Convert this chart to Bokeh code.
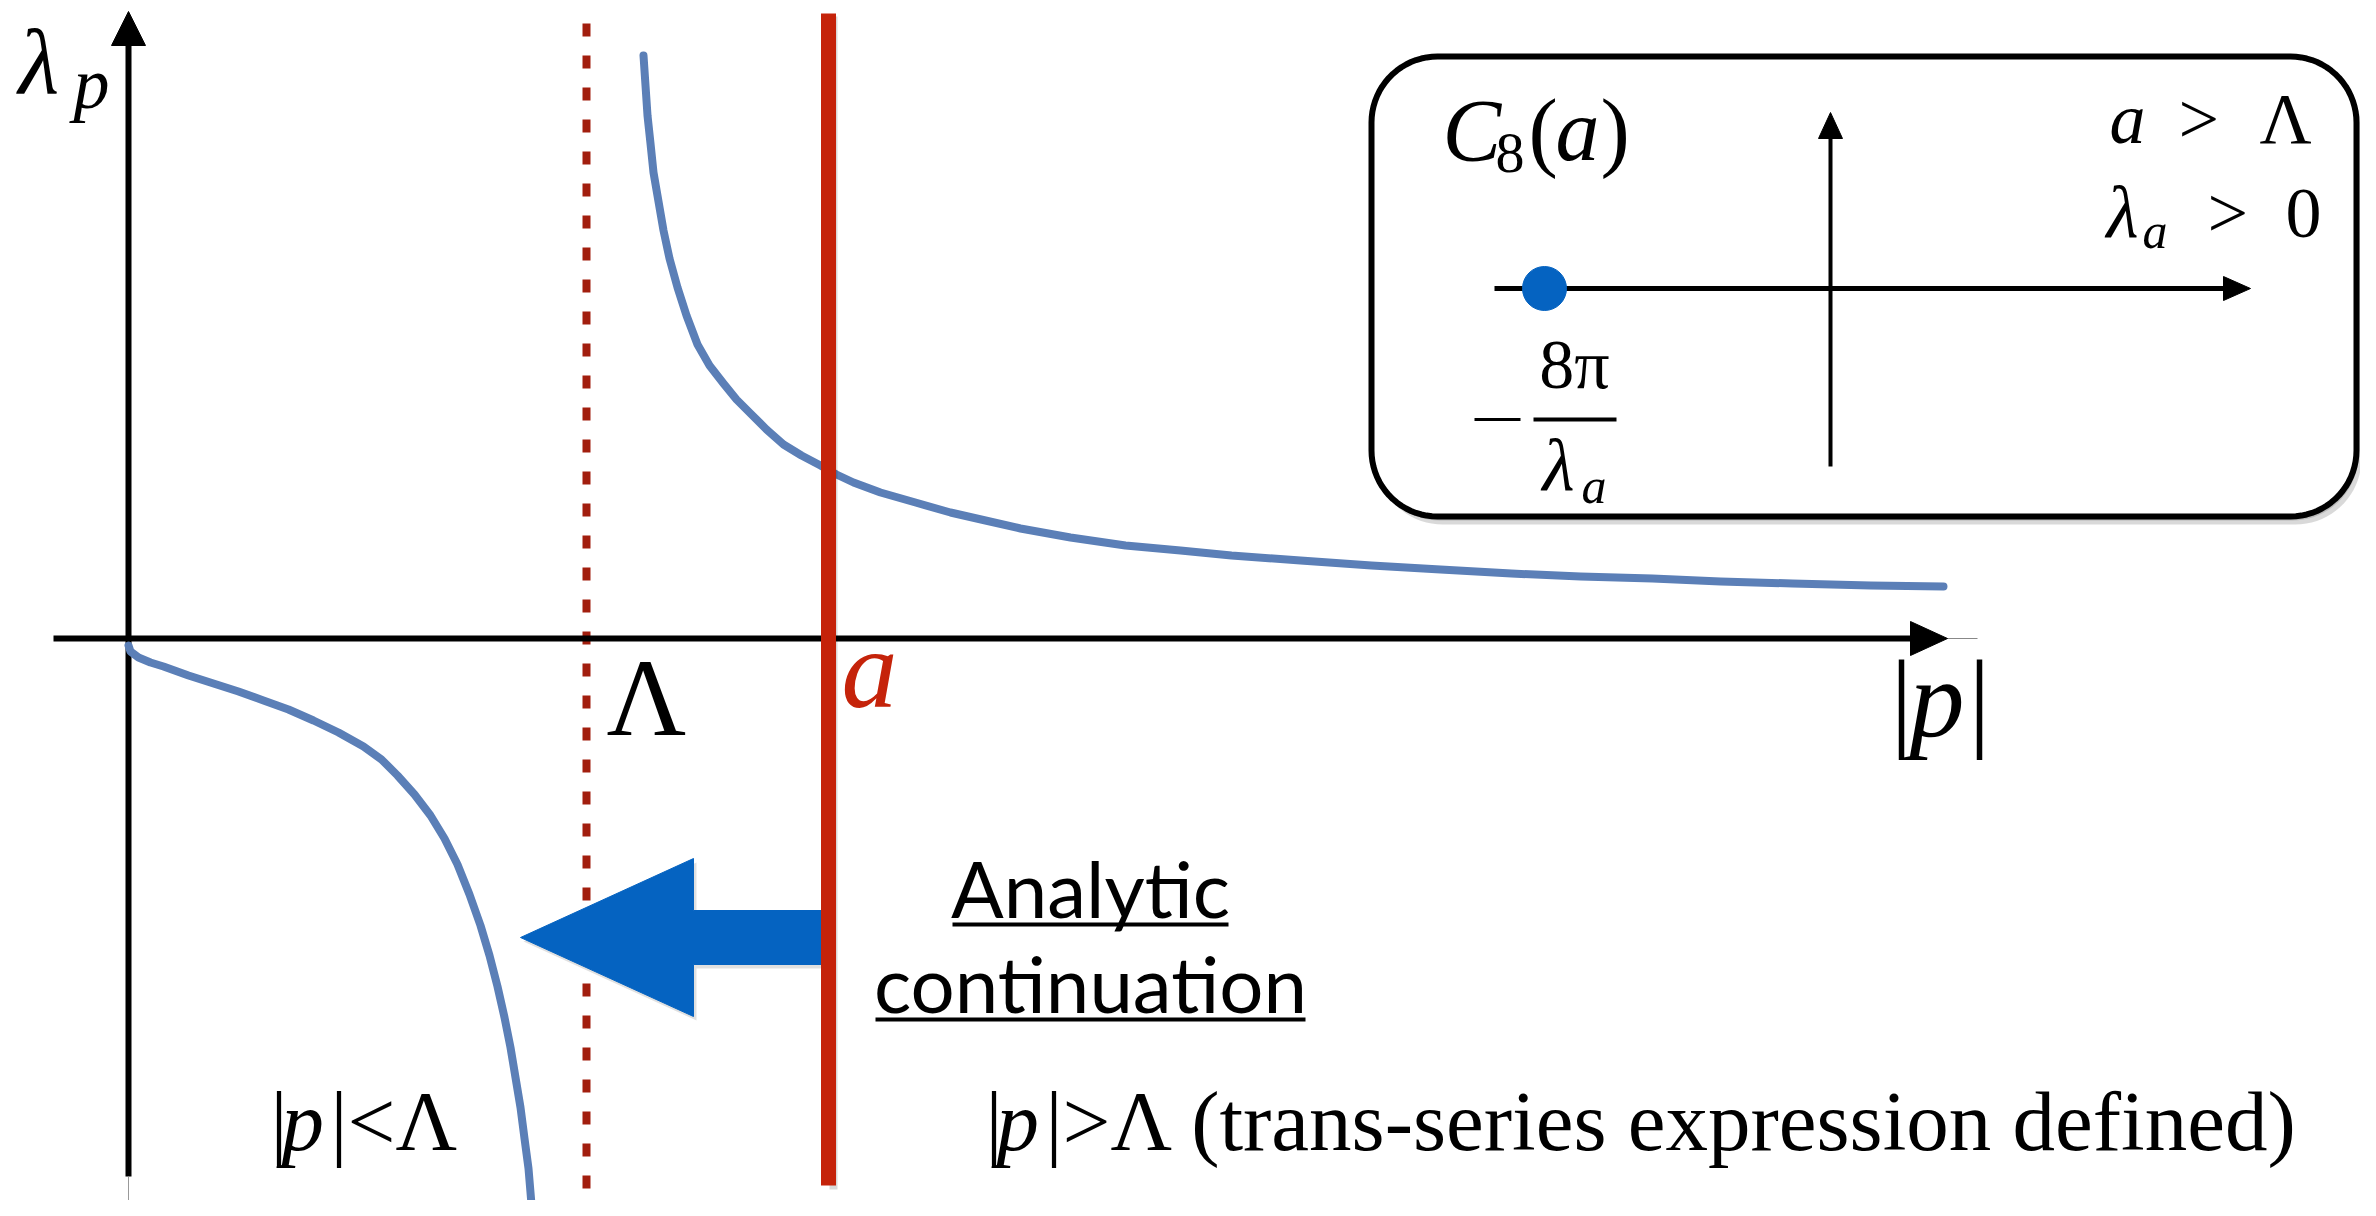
import numpy as np
from bokeh.plotting import figure
from bokeh.models import Range1d
from bokeh.core.properties import value
from bokeh.embed import file_html
from bokeh.resources import INLINE

# ---------------- data (units: px offsets from the axes origin, y up) ----------------
# lower branch of lambda_p (|p| < Lambda)
lower_x = [-1, 1, 9, 21, 34, 59, 84, 109, 134, 159, 184, 209, 234, 252, 268, 285, 301, 315,
           328, 340, 351, 360, 368, 375, 381, 386, 391, 395, 399, 401, 403]
lower_y = [-7, -13, -19, -24, -28, -37, -45, -53, -62, -71, -82, -94, -108, -121, -137, -156,
           -177, -200, -226, -256, -287, -317, -348, -379, -409, -439, -469, -500, -530, -554, -578]
# upper branch of lambda_p (|p| > Lambda)
upper_x = [514, 516, 518, 521, 524, 529, 534, 540, 548, 557, 568, 580, 594, 607, 621, 637, 654,
           672, 691, 707, 724, 751, 786, 821, 856, 891, 941, 996, 1051, 1102, 1171, 1242, 1311,
           1382, 1451, 1523, 1591, 1663, 1741, 1814]
upper_y = [583, 553, 523, 495, 466, 437, 408, 380, 351, 323, 294, 273, 255, 239, 225, 209, 194,
           183, 173, 164, 156, 146, 136, 126, 118, 110, 101, 93, 88, 83, 78, 73, 69,
           65, 62, 60, 57, 55, 53, 52]

LAMBDA_POS = 457     # dashed line |p| = Lambda
A_POS = 699          # solid line |p| = a
POLE_POS = 1415      # pole -8pi/lambda_a on the inset's real axis

# ---------------- figure ----------------
W, H = 2360, 1200
p = figure(width=W, height=H, x_range=Range1d(-129, 2231), y_range=Range1d(-562, 638),
           output_backend="svg", toolbar_location=None, min_border=0, title=None,
           x_axis_location=None, y_axis_location=None)
p.grid.visible = False
p.outline_line_color = None
p.background_fill_color = "white"
p.border_fill_color = "white"

SERIF = "Liberation Serif"
BASE_FIX = 0.34   # rendered alphabetic baseline sits this many em too low


def txt(x, y, s, size, style="normal", color="black", font=SERIF, align="left"):
    p.text(x=[x], y=[y + BASE_FIX * size], text=[s], text_font=value(font), text_font_size=f"{size}px",
           text_font_style=style, text_color=color, text_align=align, text_baseline="alphabetic")


def tri(xs, ys, color="black"):
    p.patch(xs, ys, fill_color=color, line_color=color, line_width=1)


# ---- Lambda dashed line ----
p.line([LAMBDA_POS, LAMBDA_POS], [615, -552], line_color="#A21E0E", line_width=8, line_dash="13 19")

# ---- main axes ----
p.line([-76, 1784], [0, 0], line_color="black", line_width=6)
p.line([1816, 1848], [0, 0], line_color="#888888", line_width=1)
tri([1781, 1818, 1781], [17, 0, -17])
p.line([-1, -1], [596, -538], line_color="black", line_width=6)
p.line([-1, -1], [-538, -580], line_color="#999999", line_width=1)
tri([-18, -1, 16], [593, 627, 593])

# ---- lambda_p curve ----
p.line(lower_x, lower_y, line_color="#5B7FB7", line_width=8, line_cap="round", line_join="round")
p.line(upper_x, upper_y, line_color="#5B7FB7", line_width=8, line_cap="round", line_join="round")

# ---- analytic-continuation arrow ----
tip_x, tail_x, arr_y = 391, 699, -299
head_back, head_half, shaft_half = 564, 79, 27
ax = [tip_x, head_back, head_back, tail_x, tail_x, head_back, head_back]
ay = [arr_y, arr_y + head_half, arr_y + shaft_half, arr_y + shaft_half,
      arr_y - shaft_half, arr_y - shaft_half, arr_y - head_half]
p.patch([x + 3 for x in ax], [y - 4 for y in ay], fill_color="#000000", fill_alpha=0.12, line_color=None)
p.patch(ax, ay, fill_color="#0563C1", line_color="#0563C1", line_width=1)

# ---- a solid line ----
p.line([A_POS + 5, A_POS + 5], [622, -551], line_color="#000000", line_alpha=0.15, line_width=8)
p.line([A_POS, A_POS], [625, -547], line_color="#C5230A", line_width=15)

# ---- labels on main plot ----
txt(-111, 546, "λ", 94, style="italic")
txt(-56, 530, "p", 72, style="italic")
txt(477, -97, "Λ", 110)
txt(712, -69, "a", 112, style="italic", color="#C5230A")
txt(1761, -99, "|", 110)
txt(1780, -99, "p", 110, style="italic")
txt(1839, -99, "|", 110)

# bottom texts
txt(141, -511, "|", 85)
txt(152, -511, "p", 85, style="italic")
txt(201, -511, "|<Λ", 85)
txt(856, -511, "|", 85)
txt(867, -511, "p", 85, style="italic")
txt(916, -511, "|>Λ (trans-series expression defined)", 85)

# Analytic continuation (underlined)
txt(961, -276, "Analytic", 78, font="Lato", align="center")
txt(961, -371, "continuation", 78, font="Lato", align="center")
p.line([823, 1099], [-286, -286], line_color="black", line_width=4)
p.line([746, 1176], [-381, -381], line_color="black", line_width=4)

# ---- inset box ----
def rounded_rect(x0, y0, x1, y1, r, n=20):
    xs, ys = [], []
    corners = [(x1 - r, y1 - r, 0), (x0 + r, y1 - r, 90), (x0 + r, y0 + r, 180), (x1 - r, y0 + r, 270)]
    for cx, cy, a0 in corners:
        t = np.radians(np.linspace(a0, a0 + 90, n))
        xs.extend(cx + r * np.cos(t))
        ys.extend(cy + r * np.sin(t))
    return xs, ys

bx, by = rounded_rect(1242, 122, 2227, 582, 66)
p.patch([x + 5 for x in bx], [y - 8 for y in by], fill_color="#000000", fill_alpha=0.15, line_color=None)
p.patch([x + 2 for x in bx], [y - 4 for y in by], fill_color="#000000", fill_alpha=0.15, line_color=None)
p.patch(bx, by, fill_color="white", line_color="black", line_width=6)

# inset axes
p.line([1365, 2096], [350, 350], line_color="black", line_width=5)
tri([2094, 2121, 2094], [362, 350, 338])
p.line([1701, 1701], [172, 502], line_color="black", line_width=4)
tri([1689, 1701, 1713], [500, 526, 500])
p.scatter([POLE_POS], [350], size=44, fill_color="#0563C1", line_color="#0563C1")

# inset labels
txt(1313, 478, "C", 88, style="italic")
txt(1366, 466, "8", 58)
txt(1399, 478, "(", 88)
txt(1426, 478, "a", 88, style="italic")
txt(1471, 478, ")", 88)

txt(1980, 495, "a", 72, style="italic")
txt(2049, 495, ">", 72)
txt(2130, 495, "Λ", 72)

txt(1977, 401, "λ", 74, style="italic")
txt(2013, 391, "a", 50, style="italic")
txt(2078, 401, ">", 72)
txt(2156, 401, "0", 72)

p.line([1345, 1391], [219, 219], line_color="black", line_width=3)
p.line([1404, 1487], [219, 219], line_color="black", line_width=4)
txt(1445, 250, "8π", 70, align="center")
txt(1413, 148, "λ", 74, style="italic")
txt(1452, 136, "a", 50, style="italic")

open("out.html", "w").write(file_html(p, INLINE))
